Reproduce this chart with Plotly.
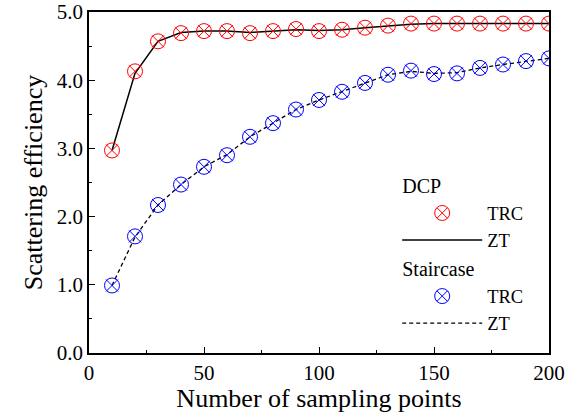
import plotly.graph_objects as go

n_points = [10, 20, 30, 40, 50, 60, 70, 80, 90, 100, 110, 120, 130, 140, 150, 160, 170, 180, 190, 200]
dcp_trc = [2.97, 4.13, 4.57, 4.69, 4.72, 4.72, 4.69, 4.72, 4.75, 4.72, 4.74, 4.77, 4.80, 4.83, 4.83, 4.83, 4.83, 4.83, 4.83, 4.83]
dcp_zt = [2.97, 4.10, 4.57, 4.70, 4.72, 4.72, 4.70, 4.72, 4.74, 4.73, 4.74, 4.77, 4.80, 4.82, 4.83, 4.83, 4.83, 4.83, 4.83, 4.83]
stair_trc = [0.99, 1.71, 2.17, 2.47, 2.73, 2.90, 3.17, 3.37, 3.57, 3.71, 3.83, 3.96, 4.08, 4.14, 4.09, 4.10, 4.18, 4.23, 4.28, 4.32]
stair_zt = [0.99, 1.70, 2.17, 2.47, 2.73, 2.91, 3.17, 3.37, 3.57, 3.71, 3.83, 3.96, 4.08, 4.13, 4.10, 4.11, 4.18, 4.23, 4.28, 4.32]

FONT = "Liberation Serif, Times New Roman, serif"
DASH = "4px,3px"

fig = go.Figure()

# ZT lines (data)
fig.add_trace(go.Scatter(x=n_points, y=dcp_zt, mode="lines", line=dict(color="black", width=1.5),
                         showlegend=False, hoverinfo="skip"))
fig.add_trace(go.Scatter(x=n_points, y=stair_zt, mode="lines", line=dict(color="black", width=1.3, dash=DASH),
                         showlegend=False, hoverinfo="skip"))

# TRC markers (data): circle with a slightly larger cross
for ys, col in ((dcp_trc, "red"), (stair_trc, "blue")):
    fig.add_trace(go.Scatter(x=n_points, y=ys, mode="markers", showlegend=False,
                             marker=dict(symbol="circle-open", size=15, color=col, line=dict(width=1, color=col))))
    fig.add_trace(go.Scatter(x=n_points, y=ys, mode="markers", showlegend=False, hoverinfo="skip",
                             marker=dict(symbol="x-thin-open", size=12, color=col, line=dict(width=1, color=col))))

# Legend entries
fig.add_trace(go.Scatter(x=[None], y=[None], mode="markers", name="TRC", legendgroup="dcp",
                         legendgrouptitle_text="DCP", legendrank=1,
                         marker=dict(symbol="circle-x-open", size=15, color="red", line=dict(width=1))))
fig.add_trace(go.Scatter(x=[None], y=[None], mode="lines", line=dict(color="black", width=1.5),
                         name="ZT", legendgroup="dcp", legendrank=2))
fig.add_trace(go.Scatter(x=[None], y=[None], mode="markers", name="TRC", legendgroup="stair",
                         legendgrouptitle_text="Staircase", legendrank=3,
                         marker=dict(symbol="circle-x-open", size=15, color="blue", line=dict(width=1))))
fig.add_trace(go.Scatter(x=[None], y=[None], mode="lines", line=dict(color="black", width=1.3, dash=DASH),
                         name="ZT", legendgroup="stair", legendrank=4))

axis_common = dict(
    showline=True, linecolor="black", linewidth=1.5, mirror=True,
    ticks="inside", ticklen=6, tickwidth=1, tickcolor="black",
    showgrid=False, zeroline=False, automargin=False,
    ticklabeloverflow="allow",
    tickfont=dict(family=FONT, size=21, color="black"),
)

fig.update_layout(
    width=573, height=413,
    margin=dict(l=89, r=24, t=12, b=60),
    plot_bgcolor="white", paper_bgcolor="white",
    font=dict(family=FONT, color="black"),
    xaxis=dict(range=[0, 200], tickvals=[0, 50, 100, 150, 200],
               minor=dict(tickvals=[25, 75, 125, 175], ticks="inside", ticklen=3, tickcolor="black"),
               title=dict(text="Number of sampling points", font=dict(family=FONT, size=26), standoff=0),
               **axis_common),
    yaxis=dict(range=[0, 5], tickvals=[0, 1, 2, 3, 4, 5], tickformat=".1f",
               minor=dict(tickvals=[0.5, 1.5, 2.5, 3.5, 4.5], ticks="inside", ticklen=3, tickcolor="black"),
               title=dict(text="Scattering efficiency", font=dict(family=FONT, size=26), standoff=7),
               **axis_common),
    legend=dict(x=0.67, y=0.55, xanchor="left", yanchor="top",
                font=dict(family=FONT, size=18.5), grouptitlefont=dict(family=FONT, size=20),
                tracegroupgap=0, bgcolor="rgba(0,0,0,0)", itemwidth=80),
    showlegend=True,
)

fig.write_html("out.html", config={"displayModeBar": False},
               post_script="document.body.style.margin='0';")
